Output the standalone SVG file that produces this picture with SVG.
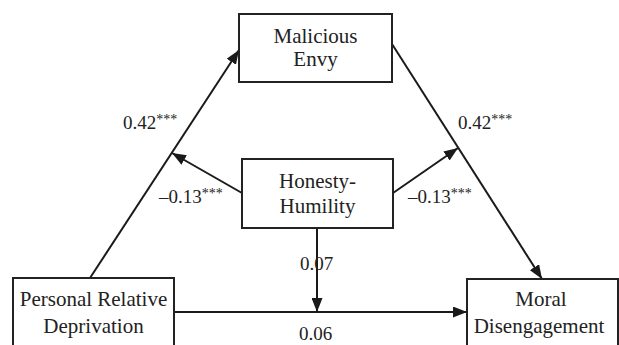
<svg xmlns="http://www.w3.org/2000/svg" width="619" height="345" viewBox="0 0 619 345">
<style>
.box{fill:#fff;stroke:#222;stroke-width:2}
.nt{font-family:"Liberation Serif","Times New Roman",serif;font-size:21px;fill:#222;text-anchor:middle}
.lb{font-family:"Liberation Serif","Times New Roman",serif;font-size:19px;fill:#222}
.sup{font-size:14px}
.ln{stroke:#1a1a1a;stroke-width:2;fill:none}
</style>
<defs>
<marker id="ah" markerUnits="userSpaceOnUse" markerWidth="14" markerHeight="11" refX="14" refY="5.5" orient="auto">
<path d="M0,0 L14,5.5 L0,11 z" fill="#1a1a1a"/>
</marker>
</defs>
<rect width="619" height="345" fill="#fff"/>
<g id="connectors">
<line class="ln" x1="90" y1="278" x2="239" y2="50" marker-end="url(#ah)"/>
<line class="ln" x1="392" y1="44" x2="542" y2="279" marker-end="url(#ah)"/>
<line class="ln" x1="242" y1="193" x2="172" y2="153" marker-end="url(#ah)"/>
<line class="ln" x1="393" y1="193" x2="458" y2="148" marker-end="url(#ah)"/>
<line class="ln" x1="317" y1="228" x2="317" y2="312" marker-end="url(#ah)"/>
<line class="ln" x1="174" y1="312" x2="467" y2="312" marker-end="url(#ah)"/>
</g>
<g id="envy">
<rect class="box" x="239" y="14" width="153" height="68"/>
<text class="nt" x="315.5" y="43">Malicious</text>
<text class="nt" x="315.5" y="66">Envy</text>
</g>
<g id="honesty">
<rect class="box" x="242" y="159" width="151" height="69"/>
<text class="nt" x="317.5" y="188">Honesty-</text>
<text class="nt" x="317.5" y="213">Humility</text>
</g>
<g id="prd">
<rect class="box" x="13" y="278" width="161" height="80"/>
<text class="nt" x="93.5" y="306">Personal Relative</text>
<text class="nt" x="93.5" y="333">Deprivation</text>
</g>
<g id="moral">
<rect class="box" x="467" y="279" width="151" height="80"/>
<text class="nt" x="541" y="306">Moral</text>
<text class="nt" x="539" y="333">Disengagement</text>
</g>
<g id="labels">
<text class="lb" x="123" y="129">0.42<tspan class="sup" dy="-5">***</tspan></text>
<text class="lb" x="458" y="129">0.42<tspan class="sup" dy="-5">***</tspan></text>
<text class="lb" x="159" y="203">–0.13<tspan class="sup" dy="-5">***</tspan></text>
<text class="lb" x="408" y="203">–0.13<tspan class="sup" dy="-5">***</tspan></text>
<text class="lb" x="300" y="270">0.07</text>
<text class="lb" x="299" y="340">0.06</text>
</g>
</svg>
